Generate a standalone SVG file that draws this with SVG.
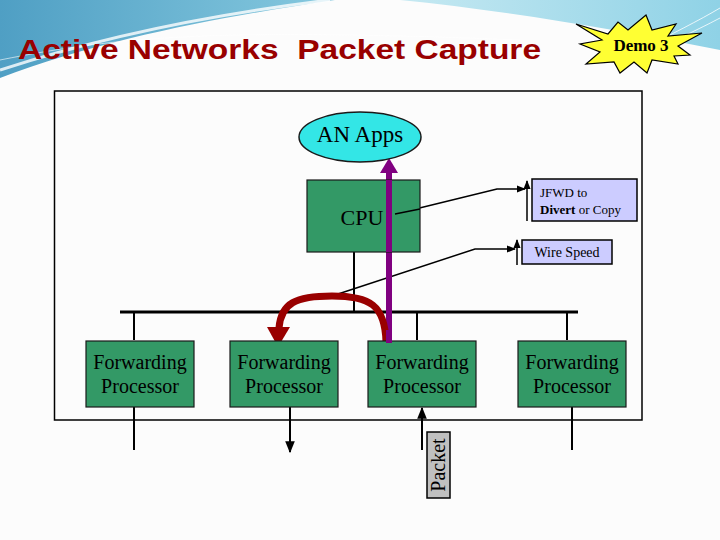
<svg xmlns="http://www.w3.org/2000/svg" width="720" height="540" viewBox="0 0 720 540">
<defs>
<linearGradient id="blueL" x1="0" y1="0" x2="1" y2="0">
<stop offset="0" stop-color="#4f9fc4"/><stop offset="1" stop-color="#86c9df"/>
</linearGradient>
<linearGradient id="blueR" x1="0" y1="0" x2="1" y2="0">
<stop offset="0" stop-color="#c6e9f2"/><stop offset="1" stop-color="#8fd2e6"/>
</linearGradient>
<marker id="ah" viewBox="0 0 10 10" refX="9" refY="5" markerWidth="6" markerHeight="6" orient="auto">
<path d="M0,1 L10,5 L0,9 Z" fill="#000"/>
</marker>
<style>
.fp{fill:#339966;stroke:#1a1a1a;stroke-width:1.2}
.t{font-family:"Liberation Serif",serif;fill:#000}
.ln{stroke:#000;stroke-width:2;fill:none}
.thin{stroke:#000;stroke-width:1.5;fill:none}
.lab{fill:#ccccff;stroke:#000;stroke-width:1.5}
</style>
</defs>
<rect width="720" height="540" fill="#fcfcfc"/>
<path d="M0,0 H335 C240,14 110,36 0,78 Z" fill="url(#blueL)"/>
<path d="M0,70 C110,34 230,12 330,0" stroke="#ffffff" stroke-width="3" fill="none" opacity="0.8"/>
<path d="M0,60 C120,36 220,28 520,40" stroke="#ffffff" stroke-width="1" fill="none" opacity="0.6"/>
<path d="M400,0 H720 V50 C610,28 500,10 400,0 Z" fill="url(#blueR)"/>
<path d="M640,50 C670,35 700,20 720,8 M650,52 C680,38 705,26 720,18" stroke="#ffffff" stroke-width="1" fill="none" opacity="0.8"/>
<text x="18" y="59" font-family="Liberation Sans, Arial, sans-serif" font-weight="bold" font-size="28" fill="#990000" textLength="523" lengthAdjust="spacingAndGlyphs" xml:space="preserve">Active Networks  Packet Capture</text>
<g id="demo">
<polygon points="576,24 608,34 618,22 628,30 646,15 652,30 676,24 668,36 702,33 678,46 690,55 674,56 678,64 652,60 647,73 634,62 620,73 614,62 586,64 600,52 580,44 602,40" fill="#ffff33" stroke="#000" stroke-width="1.2"/>
<text x="641" y="51" text-anchor="middle" class="t" font-weight="bold" font-size="17">Demo 3</text>
</g>
<rect x="54.5" y="91" width="587.5" height="329" fill="none" stroke="#000" stroke-width="1.5"/>
<g id="connectors">
<line x1="120" y1="312" x2="578" y2="312" stroke="#000" stroke-width="3"/>
<line x1="134" y1="312" x2="134" y2="340" class="ln"/>
<line x1="354" y1="252" x2="354" y2="312" class="ln"/>
<line x1="417" y1="312" x2="417" y2="340" class="ln"/>
<line x1="567" y1="312" x2="567" y2="340" class="ln"/>
<line x1="134" y1="407" x2="134" y2="450" class="ln"/>
<line x1="290" y1="407" x2="290" y2="452" class="ln" marker-end="url(#ah)"/>
<line x1="422" y1="450" x2="422" y2="408" class="ln" marker-end="url(#ah)"/>
<line x1="572" y1="407" x2="572" y2="450" class="ln"/>
<polyline points="395,214 497,189 525,189" class="thin" marker-end="url(#ah)"/>
<line x1="527" y1="221" x2="527" y2="181" class="thin" marker-end="url(#ah)"/>
<polyline points="335,295 475,249 515,249" class="thin" marker-end="url(#ah)"/>
<line x1="517" y1="265" x2="517" y2="240" class="thin" marker-end="url(#ah)"/>
<line x1="389" y1="340" x2="389" y2="172" stroke="#800080" stroke-width="6"/>
<polygon points="380,173 398,173 389,158" fill="#800080"/>
<path d="M386,342 C385,305 370,296 332,296 C296,296 281,303 279,328" stroke="#990000" stroke-width="7" fill="none"/>
<polygon points="267,327 290,327 278,347" fill="#990000"/>
</g>
<g id="anapps">
<ellipse cx="360" cy="137" rx="61" ry="25" fill="#33e6e6" stroke="#1a1a1a" stroke-width="1.5"/>
<text x="360" y="142" text-anchor="middle" class="t" font-size="23">AN Apps</text>
</g>
<g id="cpu">
<rect x="307" y="180" width="113" height="72" class="fp"/>
<text x="362" y="225" text-anchor="middle" class="t" font-size="22">CPU</text>
</g>
<line x1="389" y1="180" x2="389" y2="252" stroke="#800080" stroke-width="6"/>
<line x1="395" y1="214" x2="420" y2="209" class="thin"/>
<g id="jfwd">
<rect x="532" y="179" width="105" height="42" class="lab"/>
<text x="540" y="197" class="t" font-size="13">JFWD to</text>
<text x="540" y="214" class="t" font-size="13"><tspan font-weight="bold">Divert</tspan> or Copy</text>
</g>
<g id="wirespeed">
<rect x="522" y="240" width="90" height="24" class="lab"/>
<text x="567" y="257" text-anchor="middle" class="t" font-size="14">Wire Speed</text>
</g>
<g id="fp1">
<rect x="86" y="341" width="108" height="66" class="fp"/>
<text x="140" y="369" text-anchor="middle" class="t" font-size="20">Forwarding</text>
<text x="140" y="393" text-anchor="middle" class="t" font-size="20">Processor</text>
</g>
<g id="fp2">
<rect x="230" y="341" width="108" height="66" class="fp"/>
<text x="284" y="369" text-anchor="middle" class="t" font-size="20">Forwarding</text>
<text x="284" y="393" text-anchor="middle" class="t" font-size="20">Processor</text>
</g>
<g id="fp3">
<rect x="368" y="341" width="108" height="66" class="fp"/>
<text x="422" y="369" text-anchor="middle" class="t" font-size="20">Forwarding</text>
<text x="422" y="393" text-anchor="middle" class="t" font-size="20">Processor</text>
</g>
<line x1="389" y1="330" x2="389" y2="343" stroke="#800080" stroke-width="6"/>
<g id="fp4">
<rect x="518" y="341" width="108" height="66" class="fp"/>
<text x="572" y="369" text-anchor="middle" class="t" font-size="20">Forwarding</text>
<text x="572" y="393" text-anchor="middle" class="t" font-size="20">Processor</text>
</g>
<g id="packet">
<rect x="427" y="432" width="23" height="66" fill="#c0c0c0" stroke="#000" stroke-width="1.5"/>
<text transform="translate(445,465) rotate(-90)" text-anchor="middle" class="t" font-size="20">Packet</text>
</g>
</svg>
